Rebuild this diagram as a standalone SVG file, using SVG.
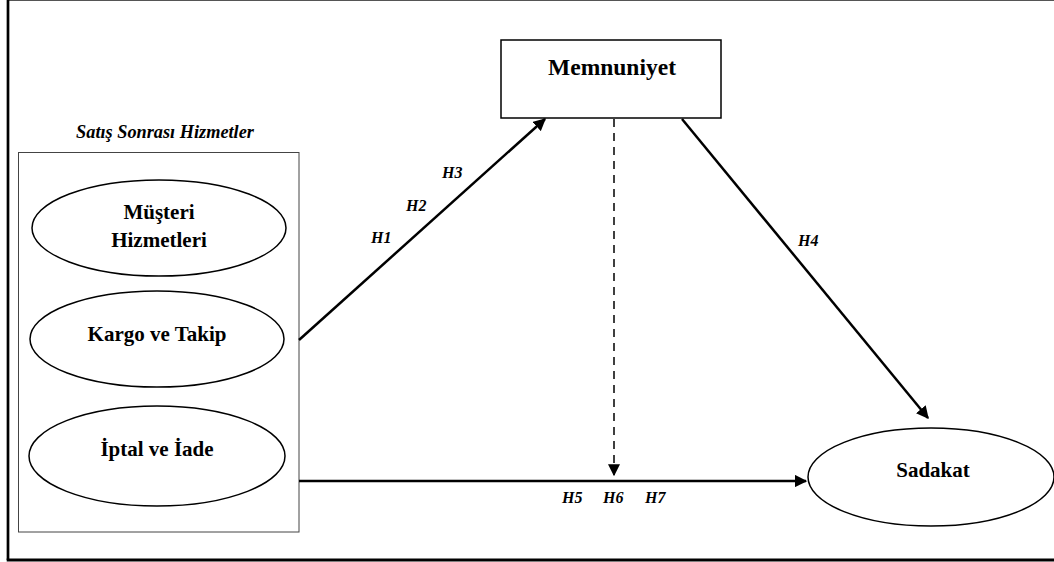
<svg xmlns="http://www.w3.org/2000/svg" width="1054" height="562" viewBox="0 0 1054 562">
<style>
.shape{fill:#fff;stroke:#000;stroke-width:1.5}
.lbl{font-family:'Liberation Serif','Times New Roman','DejaVu Serif',serif;font-weight:bold;fill:#000;text-anchor:middle}
.h{font-family:'Liberation Serif','Times New Roman','DejaVu Serif',serif;font-weight:bold;font-style:italic;font-size:16px;fill:#000}
.conn{stroke:#000;stroke-width:2.5;fill:none}
</style>
<defs>
<marker id="arr" viewBox="0 0 10 10" refX="9" refY="5" markerWidth="5" markerHeight="5" orient="auto" markerUnits="strokeWidth">
<path d="M0,0 L10,5 L0,10 z" fill="#000"/>
</marker>
<marker id="arrd" viewBox="0 0 10 10" refX="9" refY="5" markerWidth="8" markerHeight="8" orient="auto" markerUnits="strokeWidth">
<path d="M0,0 L10,5 L0,10 z" fill="#000"/>
</marker>
</defs>
<rect width="1054" height="562" fill="#fff"/>
<g id="frame">
<line x1="8" y1="0.5" x2="1054" y2="0.5" stroke="#555" stroke-width="1"/>
<line x1="8" y1="0" x2="8" y2="560" stroke="#000" stroke-width="2.7"/>
<line x1="6.7" y1="560" x2="1054" y2="560" stroke="#000" stroke-width="3"/>
</g>
<g id="group-satis">
<rect x="18.5" y="152.5" width="280.5" height="379.5" fill="none" stroke="#444" stroke-width="1"/>
<text class="lbl" x="165" y="138" font-size="18.3" font-style="italic">Satış Sonrası Hizmetler</text>
</g>
<g id="node-musteri">
<ellipse class="shape" cx="159" cy="228" rx="127" ry="48"/>
<text class="lbl" x="159" y="219" font-size="21">Müşteri</text>
<text class="lbl" x="159" y="247" font-size="21">Hizmetleri</text>
</g>
<g id="node-kargo">
<ellipse class="shape" cx="157" cy="339" rx="127" ry="48"/>
<text class="lbl" x="157" y="341" font-size="21">Kargo ve Takip</text>
</g>
<g id="node-iptal">
<ellipse class="shape" cx="157" cy="456" rx="128" ry="50"/>
<text class="lbl" x="157" y="456" font-size="21">İptal ve İade</text>
</g>
<g id="node-memnuniyet">
<rect class="shape" x="501" y="40" width="220" height="78"/>
<text class="lbl" x="612" y="75" font-size="23.5">Memnuniyet</text>
</g>
<g id="node-sadakat">
<ellipse class="shape" cx="931" cy="477" rx="123" ry="49"/>
<text class="lbl" x="933" y="477" font-size="21">Sadakat</text>
</g>
<g id="connectors">
<line class="conn" x1="299" y1="340" x2="545" y2="119" marker-end="url(#arr)"/>
<line class="conn" x1="682" y1="119" x2="928" y2="418" marker-end="url(#arr)"/>
<line class="conn" x1="299" y1="481" x2="806" y2="481" marker-end="url(#arr)"/>
<line x1="614" y1="119" x2="614" y2="475" stroke="#000" stroke-width="1.5" stroke-dasharray="8,6" marker-end="url(#arrd)"/>
</g>
<g id="labels">
<text class="h" x="442" y="178">H3</text>
<text class="h" x="406" y="211">H2</text>
<text class="h" x="371" y="243">H1</text>
<text class="h" x="798" y="246">H4</text>
<text class="h" x="562" y="503">H5</text>
<text class="h" x="603" y="503">H6</text>
<text class="h" x="645" y="503">H7</text>
</g>
</svg>
